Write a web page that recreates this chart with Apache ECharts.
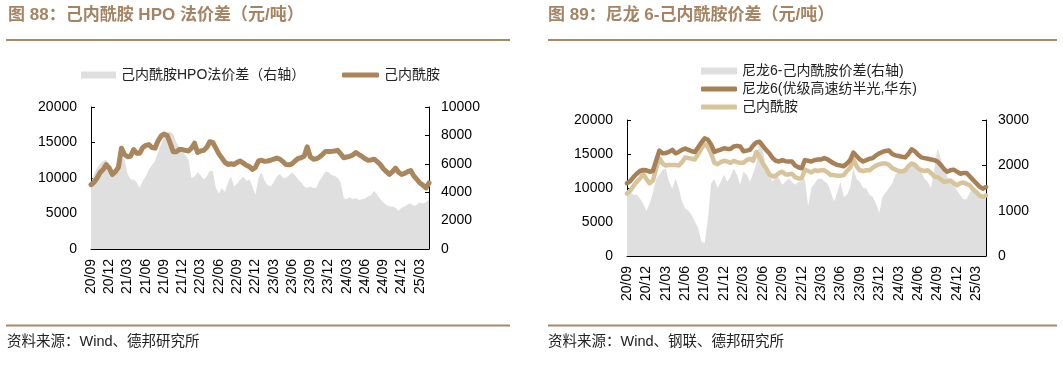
<!DOCTYPE html>
<html><head><meta charset="utf-8">
<script src="https://cdn.jsdelivr.net/npm/echarts@6/dist/echarts.min.js"></script>
<style>html,body{margin:0;padding:0;background:#fff}#c{width:1063px;height:366px}</style>
</head><body><div id="c"></div>
<script>
// semi-monthly observation dates, 2020-09 .. 2025-04
const categories = [
'2020-09-01','2020-09-16','2020-10-01','2020-10-16','2020-11-01','2020-11-16','2020-12-01','2020-12-16',
'2021-01-01','2021-01-16','2021-02-01','2021-02-16','2021-03-01','2021-03-16','2021-04-01','2021-04-16','2021-05-01','2021-05-16','2021-06-01','2021-06-16','2021-07-01','2021-07-16','2021-08-01','2021-08-16','2021-09-01','2021-09-16','2021-10-01','2021-10-16','2021-11-01','2021-11-16','2021-12-01','2021-12-16',
'2022-01-01','2022-01-16','2022-02-01','2022-02-16','2022-03-01','2022-03-16','2022-04-01','2022-04-16','2022-05-01','2022-05-16','2022-06-01','2022-06-16','2022-07-01','2022-07-16','2022-08-01','2022-08-16','2022-09-01','2022-09-16','2022-10-01','2022-10-16','2022-11-01','2022-11-16','2022-12-01','2022-12-16',
'2023-01-01','2023-01-16','2023-02-01','2023-02-16','2023-03-01','2023-03-16','2023-04-01','2023-04-16','2023-05-01','2023-05-16','2023-06-01','2023-06-16','2023-07-01','2023-07-16','2023-08-01','2023-08-16','2023-09-01','2023-09-16','2023-10-01','2023-10-16','2023-11-01','2023-11-16','2023-12-01','2023-12-16',
'2024-01-01','2024-01-16','2024-02-01','2024-02-16','2024-03-01','2024-03-16','2024-04-01','2024-04-16','2024-05-01','2024-05-16','2024-06-01','2024-06-16','2024-07-01','2024-07-16','2024-08-01','2024-08-16','2024-09-01','2024-09-16','2024-10-01','2024-10-16','2024-11-01','2024-11-16','2024-12-01','2024-12-16',
'2025-01-01','2025-01-16','2025-02-01','2025-02-16','2025-03-01','2025-03-16','2025-04-01','2025-04-16'
];
const quarterMonths = ['03','06','09','12'];

// 图88: 己内酰胺HPO法价差 (right axis) and 己内酰胺 price (left axis)
const hpoSpread = [
4600,5300,5700,6000,6200,6300,5900,5200,5400,5700,6400,6300,5300,4900,4900,4700,4300,4800,5100,5600,
5900,6200,6800,7400,7900,8200,8250,8100,7500,7200,6900,6600,6300,5000,5100,5400,5200,4900,5100,5500,
5500,4300,3900,4300,4000,4700,5100,4400,4600,4900,5100,4800,4900,4400,3800,5000,5400,4800,4500,4400,
4700,5100,5300,5000,5000,5200,5400,5200,4900,4700,4400,4300,4400,4300,4300,4800,5100,5450,5400,5200,
5150,5000,4700,3600,3500,3650,3500,3600,3450,3500,3550,3700,3800,4100,3800,3500,3300,3100,3000,3000,
2900,2700,2900,3000,3150,3200,3050,3100,3300,3200,3300,3500
];
const cplPriceA = [
9060,9400,10000,10800,11200,11900,11400,10500,10900,11500,14200,13300,13000,13100,14000,13500,13500,14300,14600,14700,
14300,14200,15200,15900,16200,16000,14900,13700,13700,14000,14000,13900,13800,14200,14900,13600,13800,13900,14300,15100,
15000,14200,13400,12800,12200,11900,12000,11900,12200,12400,12100,11800,11600,11200,11500,12400,12500,12350,12400,12500,
12650,12800,12650,12300,11900,11850,12000,12400,12750,12850,13050,14400,13000,12650,12700,12950,13300,13750,13750,13750,
13800,13900,13400,12850,12950,13050,13250,13600,13300,13050,12700,12500,12550,12650,12300,11900,11300,10900,10500,10900,
11400,10800,10500,10650,10900,11050,10300,9800,9300,9000,8600,9300
];

// 图89: 尼龙6-己内酰胺价差 (right axis), 尼龙6 and 己内酰胺 prices (left axis)
const nylonSpread = [
1450,1400,1350,1350,1270,1150,1000,1150,1400,1700,1790,1900,1930,1640,1490,1710,1500,1200,1050,1000,
900,760,610,320,280,800,1600,1700,1500,1640,1790,1640,1750,1930,1790,1570,1860,1790,1640,1820,
2040,2600,2350,1930,1790,1640,1790,1710,1570,1640,1710,1640,1570,1640,1650,1700,1100,1500,1600,1700,
1710,1650,1600,1420,1200,1400,1640,1300,1350,1500,1930,1700,1640,1500,1490,1350,1300,1150,950,1300,
1400,1500,1600,1800,1860,1800,1860,1900,2000,2080,2000,1860,1700,1640,1500,1900,2370,2150,1930,1750,
1640,1550,1450,1345,1250,1250,1400,1490,1450,1345,1300,1270
];
const nylonPrice = [
10700,11000,11600,12100,12500,12650,12600,12400,12500,14000,15500,15100,15150,15300,15600,15100,15300,15600,15800,15600,
15400,15300,16000,16700,17300,17100,16400,15300,15500,15650,15850,15750,15750,16100,16200,16100,15400,15500,15600,16250,
16700,16800,16200,15600,15100,14400,14000,13900,14100,13950,13900,13900,13300,13050,12900,14100,14000,13900,14100,14200,
14200,14400,14200,13900,13600,13400,13300,13200,13600,14100,15200,14700,14200,13900,14100,14300,14400,14800,15100,15300,
15450,15500,15000,14800,14700,14600,14500,15000,15700,15400,14900,14500,14400,14300,14200,14100,13900,13400,12800,12400,
12600,12700,12400,12100,12200,12200,11700,11200,10700,10200,9900,10150
];
const cplPriceB = [
9200,9600,10300,10900,11400,12100,11300,10700,11100,12800,14400,13600,13300,13400,13400,13400,13300,13800,14500,14400,
14300,14200,15000,15800,16500,16000,15100,13700,13500,13800,14000,13900,13700,14000,13800,13700,13700,14100,14300,14000,
15300,14600,13600,12900,12000,11700,11800,12200,12400,12000,12000,12100,11600,11400,11400,12700,12500,12300,12600,12500,
12600,12600,12300,11900,11900,11800,11800,11900,12500,13000,14200,13200,12600,12500,12600,12600,13000,13300,13500,13600,
13600,13400,12900,12700,12500,12400,12600,13200,13600,13400,12900,12600,12500,12600,12200,11700,11600,11300,10900,11000,
11100,10700,10400,10700,10800,10600,10400,9800,9400,8900,8700,8900
];

const FONT = '"Liberation Sans", "Noto Sans CJK SC", sans-serif';
const BROWN = '#a9865b';
const BROWN2 = '#a88056';
const LIGHT = '#d8c49a';
const GRAY = '#dfdfdf';
const RULE = '#a8886a';

const isQuarterTick = (i, v) => v.slice(8) === '01' && quarterMonths.indexOf(v.slice(5, 7)) >= 0;
function xAxisFor(g) {
  return {
    gridIndex: g, type: 'category', data: categories, boundaryGap: false,
    axisLine: { lineStyle: { color: '#000', width: 1 } },
    axisTick: { inside: true, length: 4, interval: isQuarterTick, lineStyle: { color: '#000' } },
    axisLabel: { interval: isQuarterTick, rotate: 90, margin: 10, fontSize: 14, color: '#000', fontFamily: FONT,
      formatter: v => v.slice(2, 4) + '/' + v.slice(5, 7) },
    splitLine: { show: false }
  };
}
function yAxisFor(g, pos, max, step) {
  return {
    gridIndex: g, type: 'value', position: pos, min: 0, max: max, interval: step,
    axisLine: { show: true, lineStyle: { color: '#000', width: 1 } },
    axisTick: { show: true, inside: true, length: 4, lineStyle: { color: '#000' } },
    axisLabel: { fontSize: 14, color: '#000', fontFamily: FONT, margin: pos === 'left' ? 14 : 12,
      formatter: v => String(v) },
    splitLine: { show: false }
  };
}
const legendText = { fontSize: 14, color: '#222', fontFamily: FONT };

const option = {
  animation: false,
  backgroundColor: '#fff',
  grid: [
    { left: 91, top: 107, width: 338, height: 142 },
    { left: 627, top: 120, width: 359, height: 136 }
  ],
  xAxis: [xAxisFor(0), xAxisFor(1)],
  yAxis: [yAxisFor(0, 'left', 20000, 5000), yAxisFor(0, 'right', 10000, 2000),
          yAxisFor(1, 'left', 20000, 5000), yAxisFor(1, 'right', 3000, 1000)],
  legend: [
    { left: 81, top: 68, padding: 0, itemWidth: 35, itemHeight: 7, itemGap: 6, textStyle: legendText, icon: 'rect',
      data: [{ name: '己内酰胺HPO法价差（右轴）', itemStyle: { color: GRAY } }] },
    { left: 342, top: 68, padding: 0, itemWidth: 37, itemHeight: 5, textStyle: legendText, icon: 'roundRect',
      data: [{ name: '己内酰胺', itemStyle: { color: BROWN } }] },
    { left: 701, top: 64, padding: 0, itemWidth: 36, itemHeight: 7, textStyle: legendText, icon: 'rect',
      data: [{ name: '尼龙6-己内酰胺价差(右轴)', itemStyle: { color: GRAY } }] },
    { left: 701, top: 82, padding: 0, itemWidth: 36, itemHeight: 5, textStyle: legendText, icon: 'roundRect',
      data: [{ name: '尼龙6(优级高速纺半光,华东)', itemStyle: { color: BROWN2 } }] },
    { left: 701, top: 100, padding: 0, itemWidth: 36, itemHeight: 5, textStyle: legendText, icon: 'roundRect',
      data: [{ name: '己内酰胺 ', itemStyle: { color: LIGHT } }] }
  ],
  series: [
    { name: '己内酰胺HPO法价差（右轴）', type: 'line', xAxisIndex: 0, yAxisIndex: 1, data: hpoSpread,
      symbol: 'none', lineStyle: { width: 0 }, itemStyle: { color: GRAY }, areaStyle: { color: GRAY, opacity: 1 }, z: 1 },
    { name: '己内酰胺', type: 'line', xAxisIndex: 0, yAxisIndex: 0, data: cplPriceA,
      symbol: 'none', lineStyle: { width: 5, color: BROWN, join: 'round', cap: 'round' }, itemStyle: { color: BROWN }, z: 3 },
    { name: '尼龙6-己内酰胺价差(右轴)', type: 'line', xAxisIndex: 1, yAxisIndex: 3, data: nylonSpread,
      symbol: 'none', lineStyle: { width: 0 }, itemStyle: { color: GRAY }, areaStyle: { color: GRAY, opacity: 1 }, z: 1 },
    { name: '尼龙6(优级高速纺半光,华东)', type: 'line', xAxisIndex: 1, yAxisIndex: 2, data: nylonPrice,
      symbol: 'none', lineStyle: { width: 4.5, color: BROWN2, join: 'round', cap: 'round' }, itemStyle: { color: BROWN2 }, z: 3 },
    { name: '己内酰胺 ', type: 'line', xAxisIndex: 1, yAxisIndex: 2, data: cplPriceB,
      symbol: 'none', lineStyle: { width: 4.5, color: LIGHT, join: 'round', cap: 'round' }, itemStyle: { color: LIGHT }, z: 2 }
  ],
  graphic: [
    { type: 'text', left: 8, top: 7, style: { text: '图 88：己内酰胺 HPO 法价差（元/吨）', font: 'bold 17px ' + FONT, fill: '#a48462' } },
    { type: 'text', left: 548, top: 7, style: { text: '图 89：尼龙 6-己内酰胺价差（元/吨）', font: 'bold 17px ' + FONT, fill: '#a48462' } },
    { type: 'line', shape: { x1: 6, y1: 40, x2: 510, y2: 40 }, style: { stroke: RULE, lineWidth: 2 } },
    { type: 'line', shape: { x1: 548, y1: 40, x2: 1057, y2: 40 }, style: { stroke: RULE, lineWidth: 2 } },
    { type: 'line', shape: { x1: 6, y1: 325.5, x2: 510, y2: 325.5 }, style: { stroke: RULE, lineWidth: 2 } },
    { type: 'line', shape: { x1: 548, y1: 325.5, x2: 1057, y2: 325.5 }, style: { stroke: RULE, lineWidth: 2 } },
    { type: 'text', left: 7, top: 335, style: { text: '资料来源：Wind、德邦研究所', font: '14.5px ' + FONT, fill: '#222' } },
    { type: 'text', left: 548, top: 335, style: { text: '资料来源：Wind、钢联、德邦研究所', font: '14.5px ' + FONT, fill: '#222' } }
  ]
};
const chart = echarts.init(document.getElementById('c'), null, { renderer: 'canvas' });
chart.setOption(option);
</script></body></html>
